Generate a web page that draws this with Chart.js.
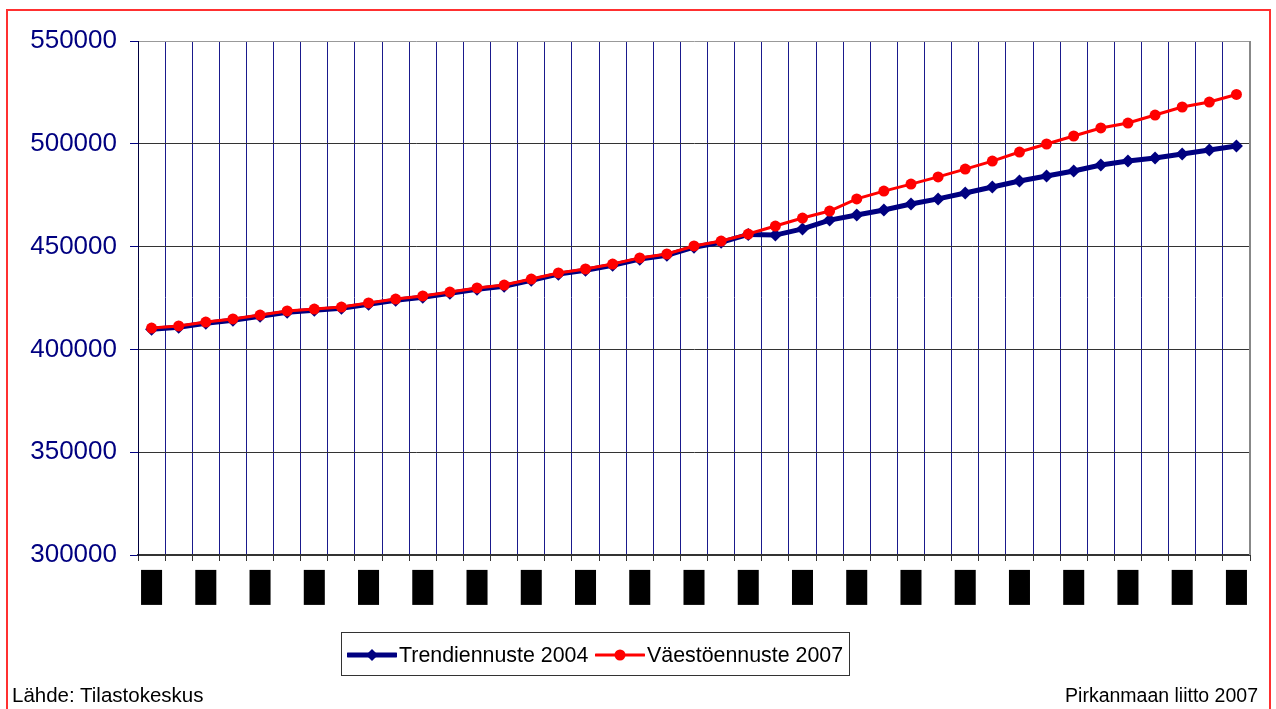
<!DOCTYPE html>
<html>
<head>
<meta charset="utf-8">
<script src="https://cdn.jsdelivr.net/npm/chart.js@4.4.1/dist/chart.umd.min.js"></script>
<style>
  html, body { margin: 0; padding: 0; background: #fff; }
  body { width: 1276px; height: 709px; position: relative; overflow: hidden; font-family: "Liberation Sans", Arial, sans-serif; }
  #frame { position: absolute; left: 6px; top: 9px; width: 1265px; height: 720px; border: 2px solid #ff3030; box-sizing: border-box; }
  #wrap { position: absolute; left: 0; top: 0; width: 1276px; height: 709px; }
  #legend { position: absolute; left: 341px; top: 632px; width: 509px; height: 44px; border: 1px solid #333; box-sizing: border-box; font-size: 22.5px; color: #000; white-space: nowrap; }
  #legend .item { position: absolute; top: 9px; display: flex; align-items: center; }
  #legend .item span { display: inline-block; transform: scaleX(0.95); transform-origin: left center; margin-left: 2px; }
  #legend svg { display: block; }
  .foot { position: absolute; top: 683px; color: #000; white-space: nowrap; }
</style>
</head>
<body>
<div id="frame"></div>
<div id="wrap"><canvas id="c" width="1276" height="709"></canvas></div>
<div id="legend"></div>
<div class="foot" style="left:12px; font-size:20.5px;">Lähde: Tilastokeskus</div>
<div class="foot" style="right:18px; font-size:19.5px; top:684px;">Pirkanmaan liitto 2007</div>
<script>
const categories = ['1980','1981','1982','1983','1984','1985','1986','1987','1988','1989',
  '1990','1991','1992','1993','1994','1995','1996','1997','1998','1999',
  '2000','2001','2002','2003','2004','2005','2006','2007','2008','2009',
  '2010','2011','2012','2013','2014','2015','2016','2017','2018','2019','2020'];

const trendiennuste2004 = [409800, 410800, 412700, 414200, 416100, 418100, 419000, 420000, 422000, 423900,
  425400, 427300, 429300, 430700, 433600, 436600, 438500, 440900, 443900, 445800,
  449700, 452100, 455900, 455600, 458600, 462900, 465400, 467800, 470700, 473200,
  476100, 479000, 481900, 484300, 486800, 489700, 491600, 493100, 495000, 497000, 498900];

const vaestoennuste2007 = [410400, 411400, 413300, 414800, 416700, 418700, 419600, 420600, 422600, 424500,
  426000, 427900, 429900, 431300, 434200, 437200, 439100, 441500, 444500, 446400,
  450300, 452700, 456100, 460000, 463900, 467300, 473200, 477000, 480400, 483900,
  487700, 491600, 496000, 499900, 503800, 507700, 510100, 514000, 517900, 520300, 524000];

const yTickLabels = ['300000','350000','400000','450000','500000','550000'];

const seriesNames = ['Trendiennuste 2004', 'Väestöennuste 2007'];
const NAVY = '#000080';
const RED = '#ff0000';

const rightBorder = {
  id: 'rightBorder',
  afterDatasetsDraw(chart) {
    const a = chart.chartArea, ctx = chart.ctx;
    ctx.save();
    ctx.strokeStyle = '#888';
    ctx.lineWidth = 2;
    ctx.beginPath();
    ctx.moveTo(a.right, a.top);
    ctx.lineTo(a.right, a.bottom);
    ctx.stroke();
    ctx.restore();
  }
};

new Chart(document.getElementById('c'), {
  type: 'line',
  data: {
    labels: categories,
    datasets: [
      {
        label: seriesNames[0],
        data: trendiennuste2004,
        borderColor: NAVY,
        backgroundColor: NAVY,
        borderWidth: 5,
        pointStyle: 'rectRot',
        pointRadius: 6.5,
        pointBorderWidth: 0,
        pointBackgroundColor: NAVY,
        tension: 0,
        order: 1
      },
      {
        label: seriesNames[1],
        data: vaestoennuste2007,
        borderColor: RED,
        backgroundColor: RED,
        borderWidth: 3,
        pointStyle: 'circle',
        pointRadius: 5.5,
        pointBorderWidth: 0,
        pointBackgroundColor: RED,
        tension: 0,
        order: 0
      }
    ]
  },
  options: {
    responsive: false,
    animation: false,
    events: [],
    layout: { padding: { left: 0, top: 41, right: 26, bottom: 94 } },
    plugins: { legend: { display: false }, tooltip: { enabled: false } },
    scales: {
      x: {
        type: 'category',
        offset: true,
        grid: { offset: true, color: '#1a1a8c', lineWidth: 1, drawTicks: true, tickLength: 6, tickColor: '#333' },
        border: { color: '#333', width: 2 },
        afterFit(scale) { scale.height = 60; },
        ticks: {
          autoSkip: false,
          maxRotation: 0,
          minRotation: 0,
          padding: 21,
          font: { family: '"Liberation Sans", Arial', size: 9, lineHeight: 1.2 },
          color: '#000',
          showLabelBackdrop: true,
          backdropColor: (ctx) => (ctx.index % 2 === 0 ? '#000' : 'rgba(0,0,0,0)'),
          backdropPadding: { left: 0.5, right: 0.5, top: 12.1, bottom: 12.1 },
          callback(value, index) { return index % 2 === 0 ? categories[index] : ''; }
        }
      },
      y: {
        min: 300000,
        max: 550000,
        afterFit(scale) { scale.width = 138; },
        afterBuildTicks(scale) { scale.ticks = yTickLabels.map(v => ({ value: Number(v) })); },
        grid: {
          color: (ctx) => (ctx.tick && ctx.tick.value === 550000 ? '#999' : '#333'),
          lineWidth: 1,
          tickLength: 8,
          tickColor: NAVY
        },
        border: { color: '#000040', width: 1 },
        ticks: {
          padding: 13,
          color: NAVY,
          font: { family: '"Liberation Sans", Arial', size: 26 },
          callback(value) { return String(value); }
        }
      }
    }
  },
  plugins: [rightBorder]
});

// HTML legend built from the dataset names/colours
const legend = document.getElementById('legend');
function marker(color, shape, lw) {
  const ns = 'http://www.w3.org/2000/svg';
  const svg = document.createElementNS(ns, 'svg');
  svg.setAttribute('width', '50'); svg.setAttribute('height', '20');
  const line = document.createElementNS(ns, 'line');
  line.setAttribute('x1', '1'); line.setAttribute('x2', '49');
  line.setAttribute('y1', '10'); line.setAttribute('y2', '10');
  line.setAttribute('stroke', color); line.setAttribute('stroke-width', lw);
  line.setAttribute('stroke-linecap', 'round');
  svg.appendChild(line);
  let m;
  if (shape === 'diamond') {
    m = document.createElementNS(ns, 'polygon');
    m.setAttribute('points', '25,4 31,10 25,16 19,10');
  } else {
    m = document.createElementNS(ns, 'circle');
    m.setAttribute('cx', '25'); m.setAttribute('cy', '10'); m.setAttribute('r', '5.5');
  }
  m.setAttribute('fill', color);
  svg.appendChild(m);
  return svg;
}
[[seriesNames[0], NAVY, 'diamond', 5, 5], [seriesNames[1], RED, 'circle', 3, 253]].forEach(([name, col, shape, lw, left]) => {
  const it = document.createElement('div');
  it.className = 'item';
  it.style.left = left + 'px';
  it.appendChild(marker(col, shape, lw));
  const t = document.createElement('span');
  t.textContent = name;
  it.appendChild(t);
  legend.appendChild(it);
});
</script>
</body>
</html>
